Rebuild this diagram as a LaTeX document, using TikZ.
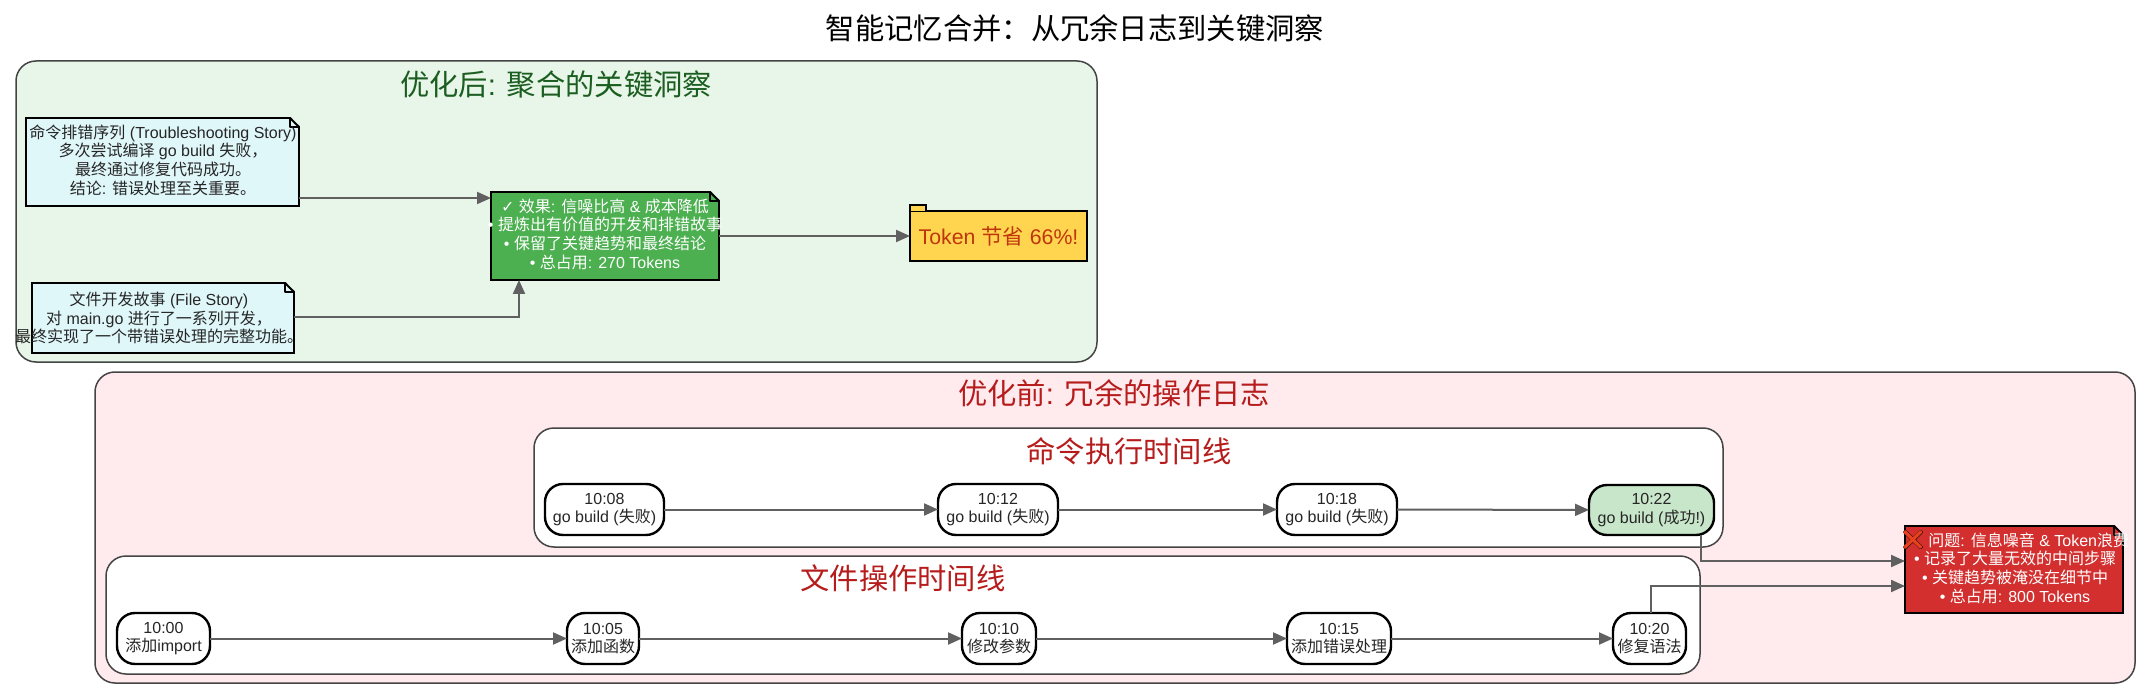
\documentclass[tikz,border=0pt]{standalone}
\usepackage{fontspec}
\setmainfont{Liberation Sans}
\newfontfamily\cjk{Noto Sans CJK SC}
\newfontfamily\dejavu{DejaVu Sans}
\newfontfamily\emojifont{Noto Emoji}
\newfontfamily\emojibold{Noto Emoji}[FakeBold=2.5]
\newcommand{\zh}[1]{{\cjk #1}}
\usetikzlibrary{arrows.meta,fit,positioning,calc}
\definecolor{clgreen}{HTML}{E8F5E9}
\definecolor{clred}{HTML}{FFEBEE}
\definecolor{noteblue}{HTML}{E0F7FA}
\definecolor{goodgreen}{HTML}{4CAF50}
\definecolor{badred}{HTML}{D32F2F}
\definecolor{foldery}{HTML}{FFD54F}
\definecolor{folderink}{HTML}{BF360C}
\definecolor{okfill}{HTML}{C8E6C9}
\definecolor{titlegreen}{HTML}{1B5E20}
\definecolor{titlered}{HTML}{B71C1C}
\definecolor{ink}{HTML}{262626}
\definecolor{edgegray}{HTML}{606060}
\definecolor{clborder}{HTML}{444444}
\definecolor{xorange}{HTML}{E8401C}
\tikzset{
  x=1pt,y=-1pt,
  cluster/.style={draw=clborder,line width=1.5pt,rounded corners=20pt},
  shapebox/.style={draw=black,line width=2.4pt,inner sep=0pt,outer sep=0pt,rectangle},
  timebox/.style={shapebox,fill=white,rounded corners=18pt},
  txt/.style={text=ink,align=center,inner sep=0pt,font=\fontsize{16}{18.7}\selectfont},
  wtxt/.style={txt,text=white},
  big/.style={inner sep=0pt,font=\fontsize{29.3}{32}\selectfont},
  edge/.style={draw=edgegray,line width=2pt,-{Triangle[length=14pt,width=12pt]}},
}
\newcommand{\foldcorner}[3]{%
  \fill[#2] ($(#1.north east)+(-#3,-1.5)$) -- ($(#1.north east)+(1.5,-1.5)$) -- ($(#1.north east)+(1.5,#3)$) -- cycle;
  \draw[black,line width=1.8pt,line join=round] ($(#1.north east)+(-#3,0)$) -- ($(#1.north east)+(0,#3)$) -- ($(#1.north east)+(-#3,#3)$) -- cycle;
}
\begin{document}
\begin{tikzpicture}
\path[fill=white] (0,0) rectangle (2151,700);
\useasboundingbox (0,0) rectangle (2151,700);

\node[font=\fontsize{29.3}{32}\selectfont,text=black,inner sep=0pt] (title) at (1075,28) {\zh{智能记忆合并：从冗余日志到关键洞察}};

% clusters
\path[cluster,fill=clgreen] (16,61) rectangle (1097,362);
\node[big,text=titlegreen] (tgreen) at (556,84) {\zh{优化后}: \zh{聚合的关键洞察}};
\path[cluster,fill=clred] (95,372) rectangle (2135,683);
\node[big,text=titlered] (tred) at (1114,393) {\zh{优化前}: \zh{冗余的操作日志}};
\path[cluster,fill=white] (534,428) rectangle (1723,547);
\node[big,text=titlered] (tcmd) at (1129,451) {\zh{命令执行时间线}};
\path[cluster,fill=white] (106,556) rectangle (1700,674);
\node[big,text=titlered] (tfile) at (903,578) {\zh{文件操作时间线}};

% notes
\node[shapebox,fill=noteblue,fit={(26,118)(299,206)}] (n1) {};
\foldcorner{n1}{clgreen}{9}
\node[txt] (n1t) at (163,160) {\zh{命令排错序列} (Troubleshooting Story)\\\zh{多次尝试编译} go build \zh{失败，}\\\zh{最终通过修复代码成功。}\\\zh{结论}: \zh{错误处理至关重要。}};
\node[shapebox,fill=noteblue,fit={(32,283)(294,353)}] (n2) {};
\foldcorner{n2}{clgreen}{9}
\node[txt] (n2t) at (159,318) {\zh{文件开发故事} (File Story)\\\zh{对} main.go \zh{进行了一系列开发，}\\\zh{最终实现了一个带错误处理的完整功能。}};
\node[shapebox,fill=goodgreen,fit={(491,192)(719,280)}] (good) {};
\foldcorner{good}{clgreen}{9}
\node[wtxt] (goodt) at (605,234) {{\dejavu ✓} \zh{效果}: \zh{信噪比高} \& \zh{成本降低}\\• \zh{提炼出有价值的开发和排错故事}\\• \zh{保留了关键趋势和最终结论}\\• \zh{总占用}: 270 Tokens};

% folder
\node[shapebox,fill=foldery,fit={(910,211)(1087,261)}] (folder) {};
\draw[black,line width=2pt,fill=foldery] (folder.north west) -- ++(0,-6) -- ++(16,0) -- ++(0,6);
\node[text=folderink,inner sep=0pt,font=\fontsize{21.3}{24}\selectfont] (foldert) at (folder.center) {Token \zh{节省} 66\%!};

% red note
\node[shapebox,line width=2.2pt,fill=badred,fit={(1905,526)(2123,613)}] (bad) {};
\foldcorner{bad}{clred}{9}
\node[wtxt] (badt) at (2015,567) {\rlap{\color{black}\emojibold\fontsize{19}{15}\selectfont ❌}{\color{xorange}\emojifont\fontsize{19}{15}\selectfont ❌}\hspace{-1pt} \zh{问题}: \zh{信息噪音} \& Token\zh{浪费}\hspace{3pt}\\• \zh{记录了大量无效的中间步骤}\\• \zh{关键趋势被淹没在细节中}\\• \zh{总占用}: 800 Tokens};

% command timeline
\node[timebox,fit={(545,484)(664,535)}] (c1) {};
\node[txt] (c1t) at (c1.center) {10:08\\go build (\zh{失败})};
\node[timebox,fit={(938,484)(1058,535)}] (c2) {};
\node[txt] (c2t) at (c2.center) {10:12\\go build (\zh{失败})};
\node[timebox,fit={(1277,484)(1397,535)}] (c3) {};
\node[txt] (c3t) at (c3.center) {10:18\\go build (\zh{失败})};
\node[timebox,fill=okfill,fit={(1589,485)(1714,535)}] (c4) {};
\node[txt] (c4t) at (c4.center) {10:22\\go build (\zh{成功}!)};

% file timeline
\node[timebox,fit={(117,613)(210,664)}] (f1) {};
\node[txt] (f1t) at (f1.center) {10:00\\\zh{添加}import};
\node[timebox,fit={(567,613)(639,664)}] (f2) {};
\node[txt] (f2t) at (f2.center) {10:05\\\zh{添加函数}};
\node[timebox,fit={(962,613)(1036,664)}] (f3) {};
\node[txt] (f3t) at (f3.center) {10:10\\\zh{修改参数}};
\node[timebox,fit={(1287,613)(1391,664)}] (f4) {};
\node[txt] (f4t) at (f4.center) {10:15\\\zh{添加错误处理}};
\node[timebox,fit={(1613,613)(1686,664)}] (f5) {};
\node[txt] (f5t) at (f5.center) {10:20\\\zh{修复语法}};

% connectors
\coordinate (ya) at (0,198);
\coordinate (yb) at (0,317);
\coordinate (xb) at (519,0);
\coordinate (yc) at (0,561);
\coordinate (yd) at (0,586);
\coordinate (xc) at (1701,0);
\coordinate (xd) at (1651,0);
\draw[edge] (n1.east |- ya) -- (good.west |- ya);
\draw[edge] (n2.east |- yb) -- (xb |- yb) -- (xb |- good.south);
\draw[edge] (good.east |- folder.east) -- (folder.west);
\draw[edge] (c1) -- (c2);
\draw[edge] (c2) -- (c3);
\draw[edge] (c3) -- (c4);
\draw[edge] (f1) -- (f2);
\draw[edge] (f2) -- (f3);
\draw[edge] (f3) -- (f4);
\draw[edge] (f4) -- (f5);
\draw[edge] (xc |- c4.south) -- (xc |- yc) -- (bad.west |- yc);
\draw[edge] (xd |- f5.north) -- (xd |- yd) -- (bad.west |- yd);
\end{tikzpicture}
\end{document}
